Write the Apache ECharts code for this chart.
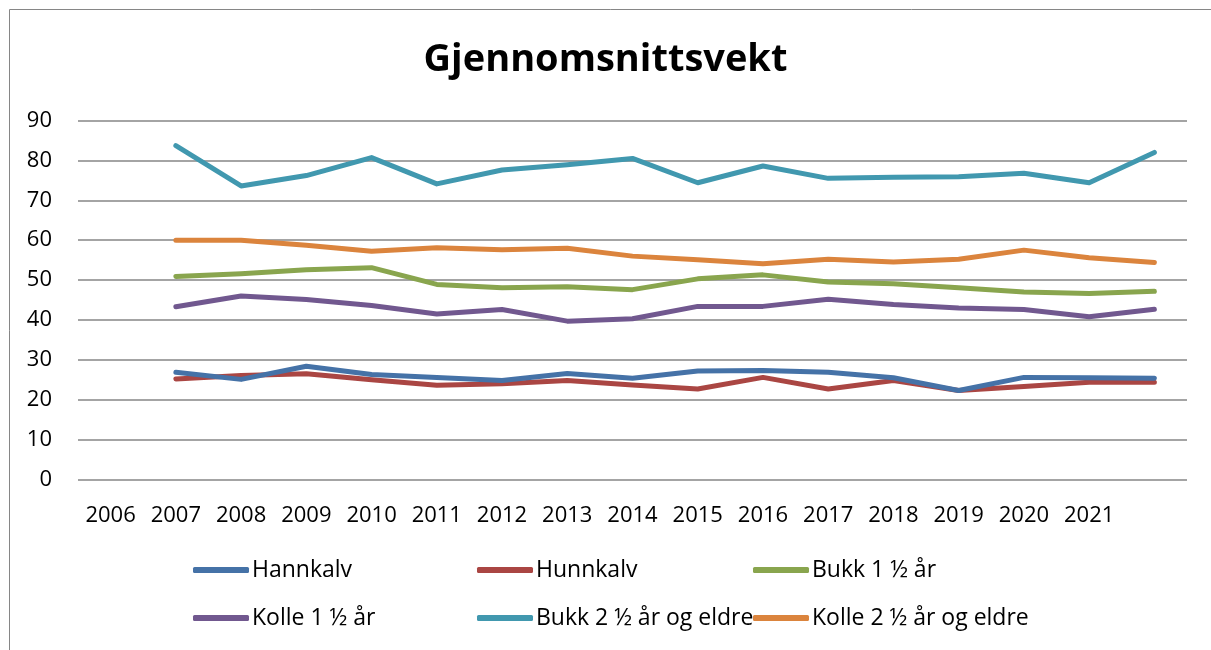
<!DOCTYPE html>
<html>
<head>
<meta charset="utf-8">
<script src="https://cdn.jsdelivr.net/npm/echarts@6/dist/echarts.min.js"></script>
<style>
  html, body { margin: 0; padding: 0; background: #fff; }
</style>
</head>
<body>
<div id="main" style="width: 1211px;height:650px;"></div>

<script type="text/javascript">
// kategorier: siste kategori har ingen etikett i originalen
var years = ['2006','2007','2008','2009','2010','2011','2012','2013','2014','2015','2016','2017','2018','2019','2020','2021',''];

var hannkalv   = [null, 26.9, 25.1, 28.4, 26.3, 25.6, 24.8, 26.6, 25.4, 27.2, 27.3, 26.9, 25.5, 22.3, 25.6, 25.5, 25.4];
var hunnkalv   = [null, 25.2, 26.1, 26.5, 25.0, 23.6, 24.0, 24.8, 23.7, 22.7, 25.6, 22.7, 24.8, 22.3, 23.3, 24.4, 24.4];
var bukk1      = [null, 50.9, 51.6, 52.6, 53.1, 48.9, 48.1, 48.3, 47.6, 50.3, 51.3, 49.5, 49.1, 48.1, 47.0, 46.6, 47.2];
var kolle1     = [null, 43.3, 46.0, 45.1, 43.6, 41.5, 42.6, 39.7, 40.3, 43.4, 43.4, 45.2, 43.9, 43.0, 42.6, 40.8, 42.7];
var bukk2      = [null, 83.7, 73.6, 76.2, 80.7, 74.1, 77.6, 78.9, 80.5, 74.4, 78.6, 75.5, 75.75, 75.9, 76.8, 74.4, 82.0];
var kolle2     = [null, 60.0, 60.0, 58.7, 57.2, 58.1, 57.6, 58.0, 56.0, 55.1, 54.1, 55.2, 54.5, 55.2, 57.5, 55.6, 54.4];

var names  = ['Hannkalv', 'Hunnkalv', 'Bukk 1 ½ år', 'Kolle 1 ½ år', 'Bukk 2 ½ år og eldre', 'Kolle 2 ½ år og eldre'];
var colors = ['#4572A7', '#AA4643', '#89A54E', '#71588F', '#4198AF', '#DB843D'];
var values = [hannkalv, hunnkalv, bukk1, kolle1, bukk2, kolle2];

var font = 'Open Sans';

var myChart = echarts.init(document.getElementById('main'));

// en legende per element, plassert i to rader og tre kolonner
var legendLeft = [193, 477, 753, 193, 477, 753];
var legendTop  = [557, 557, 557, 605, 605, 605];
var legends = names.map(function (n, i) {
	return {
		data: [n],
		left: legendLeft[i],
		top: legendTop[i],
		padding: 0,
		icon: 'roundRect',
		itemWidth: 56,
		itemHeight: 6,
		itemGap: 0,
		textStyle: { fontFamily: font, fontSize: 23, color: '#000', lineHeight: 26, padding: [0, 0, 0, -2] }
	};
});

var series = names.map(function (n, i) {
	return {
		name: n,
		type: 'line',
		data: values[i],
		symbol: 'none',
		connectNulls: false,
		color: colors[i],
		lineStyle: { width: 5, color: colors[i], cap: 'round', join: 'round' },
		z: 10 - i
	};
});

option = {
	animation: false,
	backgroundColor: '#fff',
	title: {
		text: 'Gjennomsnittsvekt',
		left: 'center',
		top: 36,
		textStyle: { fontFamily: font, fontSize: 38, fontWeight: 'bold', color: '#000' }
	},
	graphic: [{
		type: 'rect',
		shape: { x: 9.5, y: 9.5, width: 1300, height: 700 },
		style: { fill: 'none', stroke: '#868686', lineWidth: 1 },
		silent: true
	}],
	legend: legends,
	grid: { left: 78, right: 24, top: 120.5, bottom: 170.5 },
	xAxis: {
		type: 'category',
		data: years,
		boundaryGap: true,
		axisLine: { show: false },
		axisTick: { show: false },
		axisLabel: { fontFamily: font, fontSize: 22, color: '#000', margin: 25, interval: 0 }
	},
	yAxis: {
		type: 'value',
		min: 0,
		max: 90,
		interval: 10,
		axisLine: { show: false },
		axisTick: { show: false },
		axisLabel: { fontFamily: font, fontSize: 22, color: '#000', margin: 26 },
		splitLine: { lineStyle: { color: '#868686', width: 1.5 } }
	},
	series: series
};

myChart.setOption(option);
</script>
</body>
</html>
